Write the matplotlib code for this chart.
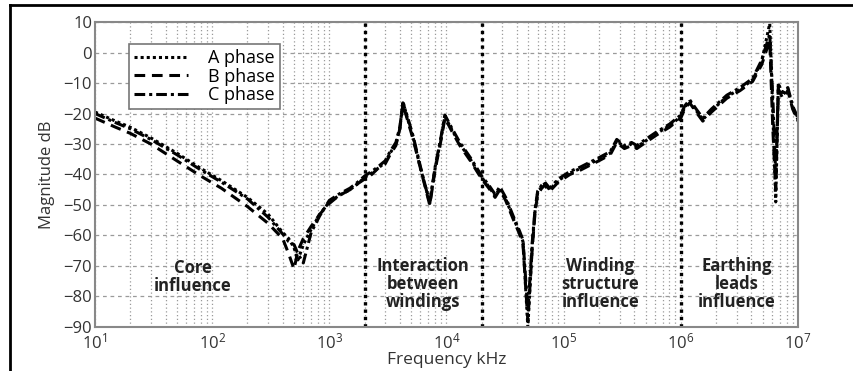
import matplotlib
matplotlib.use("Agg")
import math
import matplotlib.pyplot as plt
from matplotlib.lines import Line2D
from matplotlib.ticker import FixedLocator, FuncFormatter, NullFormatter, LogLocator

plt.rcParams['font.family'] = ['Open Sans', 'DejaVu Sans']
plt.rcParams['mathtext.fontset'] = 'custom'
plt.rcParams['mathtext.rm'] = 'Open Sans'

# frequence en kHz, commune aux trois phases
freq = [
    10, 15, 20, 30, 50, 80, 120, 200, 300, 400,
    450, 500, 540, 600, 700, 830, 1000, 1200, 1500, 1750,
    2000, 2300, 2600, 3000, 3300, 3700, 4000, 4250, 4600, 5200,
    6000, 7200, 8000, 9000, 9700, 11000, 13000, 16000, 20000, 23000,
    26000, 28500, 32000, 37000, 42000, 45000, 49500, 54000, 57000, 60000,
    65000, 69000, 76000, 90000, 113000, 140000, 167000, 200000, 250000, 284000,
    330000, 380000, 421000, 500000, 624000, 800000, 1000000, 1080000, 1190000, 1350000,
    1540000, 1830000, 2470000, 3200000, 4100000, 4900000, 5740000, 6100000, 6460000, 6800000,
    7400000, 8200000, 9000000, 10000000]

mag_a = [
    -19.5, -22.5, -24.5, -28, -33, -38, -42, -47.5, -53, -59,
    -61, -64, -68, -63, -58, -53, -49, -47, -45, -43,
    -41, -39.5, -38, -36, -33, -30, -25, -16, -21, -28,
    -38, -49, -38, -28, -21, -25, -30, -35, -41, -44,
    -47, -44.5, -48, -54, -59, -62, -90, -63, -52, -46,
    -44, -43, -45, -42, -39.5, -38, -36.5, -35, -33, -29,
    -31, -30, -31, -29, -26.5, -24, -21, -18, -16, -19,
    -22, -19, -14.5, -12, -9, -3, 9.5, -20, -49, -10,
    -14, -12, -18, -22]

mag_b = [
    -21.5, -24.5, -26.5, -30, -35.5, -40.5, -44.5, -50.5, -56, -61,
    -66, -71, -65, -61, -57, -53, -49.5, -47, -45, -43,
    -41.5, -40, -38, -36.5, -33.5, -30.5, -25, -17, -21.5, -28.5,
    -38, -50, -38.5, -28.5, -21.5, -25.5, -30.5, -35.5, -41.5, -44.5,
    -47.5, -45, -48.5, -54.5, -59.5, -63, -88, -64, -52.5, -46.5,
    -44.5, -43.5, -45.5, -42.5, -40, -38.5, -37, -35.5, -33.5, -29.5,
    -31.5, -30.5, -31.5, -29.5, -27, -24.5, -21.5, -18.5, -16.5, -19.5,
    -22.5, -19.5, -15, -12.5, -9.5, -4, 4, -25, -45, -12,
    -15, -12.5, -18.5, -22.5]

mag_c = [
    -20, -23, -25, -28.5, -33.5, -38.5, -42.5, -48, -54, -59.5,
    -62, -63, -66, -69, -59, -53.5, -48.5, -46.5, -44.5, -42.5,
    -40.5, -39, -37.5, -35.5, -32.5, -29.5, -24.5, -16.5, -20.5, -27.5,
    -37.5, -49.5, -37.5, -27.5, -20.5, -24.5, -29.5, -34.5, -40.5, -43.5,
    -46.5, -44, -47.5, -53.5, -58.5, -61.5, -85, -62, -51.5, -45.5,
    -43.5, -42.5, -44.5, -41.5, -39, -37.5, -36, -34.5, -32.5, -28.5,
    -30.5, -29.5, -30.5, -28.5, -26, -23.5, -20.5, -17.5, -15.5, -18.5,
    -21.5, -18.5, -14, -11.5, -8.5, -2.5, 6, -15, -40, -11,
    -13, -11.5, -17.5, -21.5]

# limites des zones (kHz)
separateurs = [2000, 20000, 1000000]

zones = ["Core\ninfluence", "Interaction\nbetween\nwindings",
         "Winding\nstructure\ninfluence", "Earthing\nleads\ninfluence"]
zones_x = [68, 6300, 205000, 3000000]
zones_y = [-73.5, -76, -76, -76]

fig = plt.figure(figsize=(8.54, 3.71), dpi=100)
ax = fig.add_axes([0.1112, 0.1186, 0.8232, 0.8221])

ax.plot(freq, mag_a, color='black', linestyle=(0, (1, 1)), linewidth=2.2, label='A phase')
ax.plot(freq, mag_b, color='black', linestyle=(0, (3.5, 2.2)), linewidth=2.2, label='B phase')
ax.plot(freq, mag_c, color='black', linestyle=(0, (3.5, 1.3, 1, 1.3)), linewidth=2.2, label='C phase')

for s in separateurs:
    ax.axvline(s, color='black', linestyle=(0, (1, 1.2)), linewidth=2.4)

for t, xx, yy in zip(zones, zones_x, zones_y):
    ax.text(xx, yy, t, ha='center', va='center', fontsize=12, fontweight='bold',
            linespacing=1.0, color='#222222')

ax.set_xscale('log')
ax.set_xlim(10, 1e7)
ax.set_ylim(-90, 10)
ax.set_yticks(range(-90, 11, 10))
ax.xaxis.set_major_locator(FixedLocator([10, 100, 1e3, 1e4, 1e5, 1e6, 1e7]))
ax.xaxis.set_minor_locator(LogLocator(base=10, subs=range(2, 10), numticks=20))
ax.xaxis.set_major_formatter(FuncFormatter(lambda v, p: r'$\mathrm{10^{%d}}$' % round(math.log10(v))))
ax.xaxis.set_minor_formatter(NullFormatter())

ax.xaxis.grid(True, which='both', color='#9a9a9a', linestyle=(0, (1, 2)), linewidth=0.9)
ax.yaxis.grid(True, which='major', color='#9a9a9a', linestyle=(0, (3, 3)), linewidth=0.9)
ax.tick_params(which='both', length=0, labelsize=12, colors='#333333')
ax.tick_params(axis='x', pad=4)
ax.tick_params(axis='y', pad=2)
for sp in ax.spines.values():
    sp.set_color('#888888')
    sp.set_linewidth(1.5)

ax.set_xlabel('Frequency kHz', fontsize=12.5, color='#333333', labelpad=0)
ax.set_ylabel('Magnitude dB', fontsize=12, color='#333333', labelpad=6)

leg = ax.legend(loc='upper left', bbox_to_anchor=(0.035, 0.958), fontsize=13,
                fancybox=False, framealpha=1, edgecolor='#777777', handlelength=3.0,
                borderpad=0.3, labelspacing=0.02, handletextpad=1.1)
leg.get_frame().set_linewidth(1.2)

# cadre exterieur (haut et gauche)
fig.add_artist(Line2D([0.0117, 1.0], [0.9865, 0.9865], transform=fig.transFigure,
                      color='black', linewidth=2))
fig.add_artist(Line2D([0.0117, 0.0117], [0.0, 0.9865], transform=fig.transFigure,
                      color='black', linewidth=2))

fig.savefig('out.png', dpi=100)
